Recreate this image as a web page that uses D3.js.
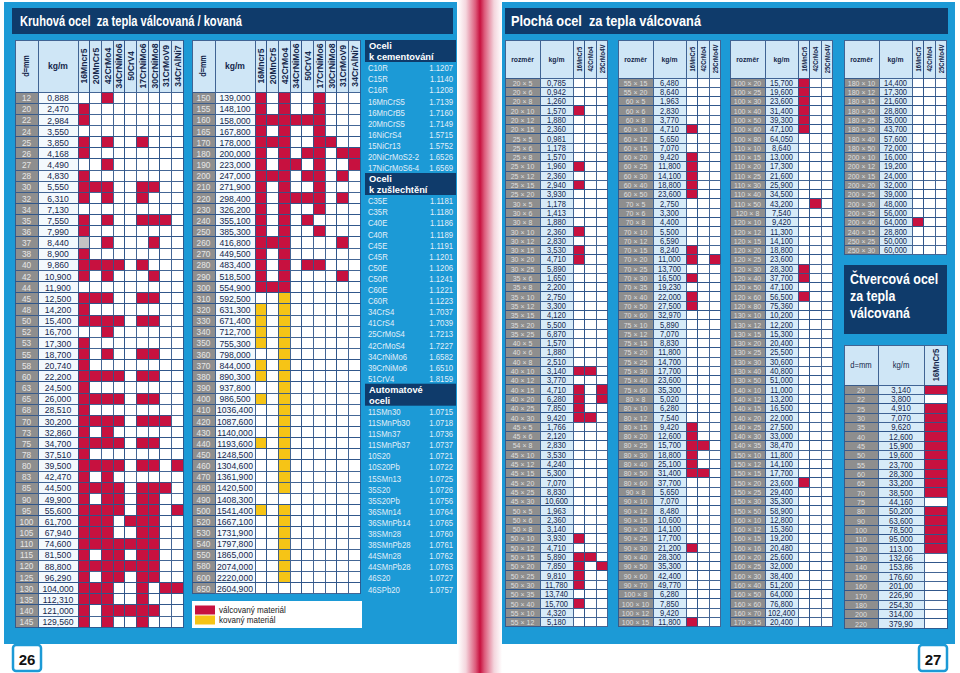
<!DOCTYPE html>
<html><head><meta charset="utf-8">
<script src="https://cdn.jsdelivr.net/npm/d3@7"></script>
<style>
body{margin:0;background:#fff}
svg{display:block;font-family:"Liberation Sans",Arial,Helvetica,sans-serif}
text{white-space:pre}
</style>
</head><body>
<svg id="c" width="960" height="673"></svg>
<script>
// ---------------- DATA ----------------
const roundGrades = ["16Mncr5","20MnCr5","42CrMo4","34CrNiMo6","50CrV4","17CrNiMo6","30CrNiMo8","31CrMoV9","34CrAlNi7"];
const roundD1 = ["12","20","22","24","25","26","27","28","30","32","34","35","36","37","38","40","42","44","45","48","50","52","53","55","58","60","63","65","68","70","73","75","78","80","83","85","90","95","100","105","110","115","120","125","130","135","140","145"];
const roundKg1 = ["0,888","2,470","2,984","3,550","3,850","4,168","4,490","4,830","5,550","6,310","7,130","7,550","7,990","8,440","8,900","9,860","10,900","11,900","12,500","14,200","15,400","16,700","17,300","18,700","20,740","22,200","24,500","26,000","28,510","30,200","32,860","34,700","37,510","39,500","42,470","44,500","49,900","55,600","61,700","67,940","74,600","81,500","88,800","96,290","104,000","112,310","121,000","129,560"];
// R = válcovaný (rolled), Y = kovaný (forged), G = grey, . = none
const roundMarks1 = ["..R......","R........","R........",".........","R.R..R...","R........","..R......","R........","RRR..RR..","R.R..R...",".........","R.R..RRR.","R........","G.R...R..","R........","RRRR.R...","R.R...R..",".........","RRR..RR..","R........","RRRR.RR..","..R......","R........","R.R..RR..","R........","RRRR.RR..","R........","RRRR.RR..","R........","RRRR.RRR.","R.R......","RRRR.RR..","R........","RRRR.RR.R","R.R......","RRRR.RRR.","R.RR.RR..","RRRR.RR.R","RRR.RRR..","RRR..RR..","RRRRRRR..","R.RR.RR..","RRRRRRR..","R.RR.RR..","RRR..R.RR","RRR..R...","R.RRRRR..","R.R..R..."];
const roundD2 = ["150","155","160","165","170","180","190","200","210","220","230","240","250","260","270","280","290","300","310","320","330","340","350","360","370","380","390","400","410","420","430","440","450","460","470","480","490","500","520","530","540","550","580","600","650"];
const roundKg2 = ["139,000","148,100","158,000","167,800","178,000","200,000","223,000","247,000","271,900","298,400","326,200","355,100","385,300","416,800","449,500","483,400","518,500","554,900","592,500","631,300","671,400","712,700","755,300","798,000","844,000","890,300","937,800","986,500","1036,400","1087,600","1140,000","1193,600","1248,500","1304,600","1361,900","1420,500","1408,300","1541,400","1667,100","1731,900","1797,800","1865,000","2074,000","2220,000","2604,900"];
const roundMarks2 = ["R.R..R...","R.R..R...","RRRRRR...","R.R..R...","RRR..RR..","R.R.RR.RR","R.RR.R..R","RRR.RR.R.","R.R..R...","R.RRRR.R.","R.R..R...","R.R.R....","R.R..R...","RRR....R.","R.R......","R.R.RR...","R.R....R.","RRR......","..Y......","Y.Y......","Y.Y......","Y.Y......","Y.Y......","..Y......","Y.Y......","Y.Y......","..Y......","Y.Y......","..Y......","..Y......","..Y......","Y.Y......","..Y......","..Y......","..Y......","..Y......",".........","Y.Y......","..Y......","..Y......","..Y......","..Y......","..Y......","..Y......","........."];

const legendLabels = ["válcovaný materiál","kovaný materiál"];

const groupTitles = [["Oceli","k cementování"],["Oceli","k zušlechtění"],["Automatové","oceli"]];
const cementNames = ["C10R","C15R","C16R","16MnCrS5","16MnCrB5","20MnCrS5","16NiCrS4","15NiCr13","20NiCrMoS2-2","17NiCrMoS6-4"];
const cementNums  = ["1.1207","1.1140","1.1208","1.7139","1.7160","1.7149","1.5715","1.5752","1.6526","1.6569"];
const temperNames = ["C35E","C35R","C40E","C40R","C45E","C45R","C50E","C50R","C60E","C60R","34CrS4","41CrS4","25CrMoS4","42CrMoS4","34CrNiMo6","39CrNiMo6","51CrV4"];
const temperNums  = ["1.1181","1.1180","1.1186","1.1189","1.1191","1.1201","1.1206","1.1241","1.1221","1.1223","1.7037","1.7039","1.7213","1.7227","1.6582","1.6510","1.8159"];
const freeNames = ["11SMn30","11SMnPb30","11SMn37","11SMnPb37","10S20","10S20Pb","15SMn13","35S20","35S20Pb","36SMn14","36SMnPb14","38SMn28","38SMnPb28","44SMn28","44SMnPb28","46S20","46SPb20"];
const freeNums  = ["1.0715","1.0718","1.0736","1.0737","1.0721","1.0722","1.0725","1.0726","1.0756","1.0764","1.0765","1.0760","1.0761","1.0762","1.0763","1.0727","1.0757"];

const flatGrades = ["16MnCr5","42CrMo4","25CrMo4V"];
const flatSize1 = ["20 × 5","20 × 6","20 × 8","20 × 10","20 × 12","20 × 15","25 × 5","25 × 6","25 × 8","25 × 10","25 × 12","25 × 15","25 × 20","30 × 5","30 × 6","30 × 8","30 × 10","30 × 12","30 × 15","30 × 20","30 × 25","35 × 6","35 × 8","35 × 10","35 × 12","35 × 15","35 × 20","35 × 25","40 × 5","40 × 6","40 × 8","40 × 10","40 × 12","40 × 15","40 × 20","40 × 25","40 × 30","45 × 5","45 × 6","54 × 8","45 × 10","45 × 12","45 × 15","45 × 20","45 × 25","45 × 30","50 × 5","50 × 6","50 × 8","50 × 10","50 × 12","50 × 15","50 × 20","50 × 25","50 × 30","50 × 35","50 × 40","55 × 10","55 × 12"];
const flatKg1 = ["0,785","0,942","1,260","1,570","1,880","2,360","0,981","1,178","1,570","1,960","2,360","2,940","3,930","1,178","1,413","1,880","2,360","2,830","3,530","4,710","5,890","1,650","2,200","2,750","3,300","4,120","5,500","6,870","1,570","1,880","2,510","3,140","3,770","4,710","6,280","7,850","9,420","1,766","2,120","2,830","3,530","4,240","5,300","7,070","8,830","10,600","1,963","2,360","3,140","3,930","4,710","5,890","7,850","9,810","11,780","13,740","15,700","4,320","5,180"];
const flatMarks1 = ["...","...","...","R..","...","...","...","...","...","R..","...","R..","...","...","...","...","R..","...","R..","R..","...","...","...","...","...","...","...","...","...","...","...","RR.","...","R.R","R.R","R..","RR.","...","...","...","...","...","...","...","...","...","...","...","...","R..","...","RR.","R.R","R..","R..","...","R..","...","..."];
const flatSize2 = ["55 × 15","55 × 20","60 × 5","60 × 6","60 × 8","60 × 10","60 × 12","60 × 15","60 × 20","60 × 25","60 × 30","60 × 40","60 × 50","70 × 5","70 × 6","70 × 8","70 × 10","70 × 12","70 × 15","70 × 20","70 × 25","70 × 30","70 × 35","70 × 40","70 × 50","70 × 60","75 × 10","75 × 12","75 × 15","75 × 20","75 × 25","75 × 30","75 × 40","75 × 60","80 × 8","80 × 10","80 × 12","80 × 15","80 × 20","80 × 25","80 × 30","80 × 40","80 × 50","80 × 60","90 × 8","90 × 10","90 × 12","90 × 15","90 × 20","90 × 25","90 × 30","90 × 40","90 × 50","90 × 60","90 × 70","100 × 8","100 × 10","100 × 12","100 × 15"];
const flatKg2 = ["6,480","8,640","1,963","2,830","3,770","4,710","5,650","7,070","9,420","11,800","14,100","18,800","23,600","2,750","3,300","4,400","5,500","6,590","8,240","11,000","13,700","16,500","19,230","22,000","27,500","32,970","5,890","7,070","8,830","11,800","14,700","17,700","23,600","35,300","5,020","6,280","7,540","9,420","12,600","15,700","18,800","25,100","31,400","37,700","5,650","7,070","8,480","10,600","14,100","17,700","21,200","28,300","35,300","42,400","49,770","6,280","7,850","9,420","11,800"];
const flatMarks2 = ["...","...","...","...","...","R..","...","...","R..","R..","R..","R..","R..","...","...","...","...","...","R..","R.R","...","R..","...","R..","R..","...","...","...","...","...","...","...","...","...","...","...","...","R..","R..","RR.","R..","R..","RR.","...","...","...","...","...","...","...","R..","...","...","...","...","...","...","...","R.."];
const flatSize3 = ["100 × 20","100 × 25","100 × 30","100 × 40","100 × 50","100 × 60","100 × 80","110 × 10","110 × 15","110 × 20","110 × 25","110 × 30","110 × 40","110 × 50","120 × 8","120 × 10","120 × 12","120 × 15","120 × 20","120 × 25","120 × 30","120 × 40","120 × 50","120 × 60","120 × 80","130 × 10","130 × 12","130 × 15","130 × 20","130 × 25","130 × 30","130 × 40","130 × 50","140 × 10","140 × 12","140 × 15","140 × 20","140 × 25","140 × 30","140 × 35","150 × 10","150 × 12","150 × 15","150 × 20","150 × 25","150 × 30","150 × 50","160 × 10","160 × 12","160 × 15","160 × 16","160 × 20","160 × 25","160 × 30","160 × 40","160 × 50","160 × 60","160 × 70","170 × 15"];
const flatKg3 = ["15,700","19,600","23,600","31,400","39,300","47,100","64,050","8,640","13,000","17,300","21,600","25,900","34,500","43,200","7,540","9,420","11,300","14,100","18,800","23,600","28,300","37,700","47,100","56,500","75,360","10,200","12,200","15,300","20,400","25,500","30,600","40,800","51,000","11,000","13,200","16,500","22,000","27,500","33,000","38,470","11,800","14,100","17,700","23,600","29,400","35,300","58,900","12,800","15,360","19,200","20,480","25,600","32,000","38,400","51,200","64,000","76,800","102,400","20,400"];
const flatMarks3 = ["R..","R..","R..","R..","R..","R..","...","...","...","...","...","...","...",".R.","...","...","...","...","...","...","R..","R..","...","R..","...","...","...","...","...","...","...","...","...","...","...","...","...","...","...","...","...","...","...","R..","...","...","...","...","...","...","...","...","...","...","...","...","...","...","..."];
const flatSize4 = ["180 × 10","180 × 12","180 × 15","180 × 20","180 × 25","180 × 30","180 × 40","180 × 50","200 × 10","200 × 12","200 × 15","200 × 20","200 × 25","200 × 30","200 × 35","200 × 40","240 × 15","250 × 25","250 × 30"];
const flatKg4 = ["14,400","17,300","21,600","28,800","35,000","43,700","57,600","72,000","16,000","19,200","24,000","32,000","39,000","48,000","56,000","64,000","28,800","50,000","60,000"];
const flatMarks4 = ["...","...","...","...","...","...","...","...","...","...","...","...","...","...","...","R..","...","...","..."];

const squareTitle = ["Čtvercová ocel","za tepla","válcovaná"];
const squareGrades = ["16MnCr5"];
const squareD = ["20","22","25","30","35","40","45","50","55","60","65","70","75","80","90","100","110","120","130","140","150","160","170","180","200","220"];
const squareKg = ["3,140","3,800","4,910","7,070","9,620","12,600","15,900","19,600","23,700","28,300","33,200","38,500","44,160","50,200","63,600","78,500","95,000","113,00","132,66","153,86","176,60","201,00","226,90","254,30","314,00","379,90"];
const squareMarks = ["R",".","R","R","R","R","R","R","R","R","R","R",".","R","R","R","R","R",".",".",".",".",".",".",".","."];

const pageTitles = ["Kruhová ocel  za tepla válcovaná / kovaná","Plochá ocel  za tepla válcovaná"];
const pageNumbers = ["26","27"];

// ---------------- STYLE ----------------
const C = {panel:"#1c9ad6", navy:"#0f3b6b", red:"#c7113f", yellow:"#f6c416", grey:"#8e8e8e",
  grid:"#30558a", head:"#cfe6f6", ink:"#15264b", list:"#e2eff9"};
const markFill = {"R":C.red, "Y":C.yellow, "G":"#c4c4c4", ".":"#ffffff"};

const svg = d3.select("#c");

function txt(g, x, y, s, o = {}) {
  return g.append("text")
    .attr("transform", `translate(${x},${y})${o.rot ? ` rotate(${o.rot})` : ""} scale(${o.sx ?? 0.9},1)`)
    .attr("text-anchor", o.anchor || "middle")
    .attr("dominant-baseline", "central")
    .attr("font-size", o.size || 9)
    .attr("font-weight", o.bold ? "bold" : "normal")
    .attr("fill", o.fill || C.ink)
    .text(s);
}

// ---------------- BACKGROUND ----------------
const defs = svg.append("defs");
const grad = defs.append("linearGradient").attr("id","spine").attr("x1","0").attr("x2","1").attr("y1","0").attr("y2","0");
[[0,"#ffffff"],[0.18,"#f4d5dd"],[0.4,"#dc5a7a"],[0.5,"#c8103e"],[0.6,"#dc5a7a"],[0.82,"#f4d5dd"],[1,"#ffffff"]]
  .forEach(([o,c]) => grad.append("stop").attr("offset",o).attr("stop-color",c));

svg.append("rect").attr("x",0).attr("y",0).attr("width",960).attr("height",673).attr("fill","#fff");
svg.append("rect").attr("x",4).attr("y",2).attr("width",453).attr("height",642).attr("fill",C.panel);
svg.append("rect").attr("x",502).attr("y",2).attr("width",453).attr("height",642).attr("fill",C.panel);
svg.append("rect").attr("x",458).attr("y",0).attr("width",44).attr("height",673).attr("fill","url(#spine)");

// titles
[[12, 8, 441, 20, 222],[505, 8, 443, 511, 190]].forEach((p,i) => {
  svg.append("rect").attr("x",p[0]).attr("y",p[1]).attr("width",p[2]).attr("height",26).attr("fill",C.navy);
  svg.append("text").attr("x",p[3]).attr("y",26).attr("font-size",15).attr("font-weight","bold")
    .attr("fill","#fff").attr("textLength",p[4]).attr("lengthAdjust","spacingAndGlyphs").text(pageTitles[i]);
});

// page numbers
[[13,pageNumbers[0]],[919,pageNumbers[1]]].forEach(([x,s]) => {
  svg.append("rect").attr("x",x).attr("y",645).attr("width",28).attr("height",26).attr("rx",3)
    .attr("fill","#fff").attr("stroke",C.panel).attr("stroke-width",2.5);
  txt(svg, x+14, 659, s, {size:15, bold:true, fill:"#111", sx:1});
});

// ---------------- TABLE DRAWER ----------------
function drawTable(cfg) {
  const g = svg.append("g").attr("shape-rendering","crispEdges");
  const gt = svg.append("g");
  const n = cfg.labels.length;
  const top = cfg.y + cfg.headH;
  const yS = d3.scaleBand().domain(d3.range(n)).range([top, top + n * cfg.rowH]);
  const gx0 = cfg.x + cfg.labW + cfg.kgW;
  const xS = d3.scaleBand().domain(cfg.grades).range([gx0, gx0 + cfg.grades.length * cfg.colW]);
  const cell = (x, y, w, h, fill) => g.append("rect").attr("x",x).attr("y",y).attr("width",w).attr("height",h)
    .attr("fill",fill).attr("stroke",C.grid).attr("stroke-width",0.9);
  // header
  cell(cfg.x, cfg.y, cfg.labW, cfg.headH, C.head);
  cell(cfg.x + cfg.labW, cfg.y, cfg.kgW, cfg.headH, C.head);
  cfg.grades.forEach(gr => cell(xS(gr), cfg.y, xS.bandwidth(), cfg.headH, C.head));
  const hc = cfg.y + cfg.headH / 2;
  txt(gt, cfg.x + cfg.labW / 2, hc, cfg.dHead.text, cfg.dHead);
  txt(gt, cfg.x + cfg.labW + cfg.kgW / 2, hc, cfg.kgHead.text, cfg.kgHead);
  cfg.grades.forEach(gr => txt(gt, xS(gr) + xS.bandwidth() / 2 + 0.5, hc, gr, cfg.gradeHead));
  // rows
  const rows = g.selectAll("g.row").data(cfg.labels.map((l, i) => ({l, kg: cfg.kgs[i], m: cfg.marks[i], i})))
    .join("g").attr("class","row");
  rows.each(function(d) {
    const y = yS(d.i), h = yS.bandwidth();
    cell(cfg.x, y, cfg.labW, h, cfg.labFill || C.grey);
    cell(cfg.x + cfg.labW, y, cfg.kgW, h, cfg.kgFill);
    cfg.grades.forEach((gr, j) => cell(xS(gr), y, xS.bandwidth(), h, markFill[d.m[j]]));
    txt(gt, cfg.x + cfg.labW / 2, y + h / 2 + 0.5, d.l, cfg.labText);
    txt(gt, cfg.x + cfg.labW + cfg.kgW / 2, y + h / 2 + 0.5, d.kg, cfg.kgText);
  });
  return {xS, yS};
}

// ---------------- ROUND TABLES ----------------
const roundStyle = {
  y: 40, headH: 52, rowH: 11.15, labW: 23, kgW: 40, colW: 11.67, grades: roundGrades,
  kgFill: "#f3f9fd",
  dHead: {text:"d=mm", rot:-90, size:8.5, bold:true, sx:0.85},
  kgHead: {text:"kg/m", size:9.5, bold:true, sx:0.9},
  gradeHead: {rot:-90, size:9.6, bold:true, sx:0.9},
  labText: {size:9, fill:"#e6e6e6", sx:0.92},
  kgText: {size:9.6, sx:0.9}
};
drawTable(Object.assign({}, roundStyle, {x:15, labels:roundD1, kgs:roundKg1, marks:roundMarks1}));
drawTable(Object.assign({}, roundStyle, {x:192, labels:roundD2, kgs:roundKg2, marks:roundMarks2}));

// legend
const lg = svg.append("g");
lg.append("rect").attr("x",192).attr("y",601).attr("width",170).attr("height",27).attr("fill","#fff");
[[C.red,605.5],[C.yellow,615.5]].forEach(([c,y],i) => {
  lg.append("rect").attr("x",195).attr("y",y).attr("width",20).attr("height",9).attr("fill",c);
  txt(lg, 219, y + 4.5, legendLabels[i], {anchor:"start", size:9.5, sx:0.85, fill:"#1a1a1a"});
});

// ---------------- STEEL GRADE LIST ----------------
const lists = [[cementNames, cementNums],[temperNames, temperNums],[freeNames, freeNums]];
let ly = 40;
const listG = svg.append("g");
lists.forEach(([names, nums], k) => {
  listG.append("rect").attr("x",365).attr("y",ly).attr("width",91).attr("height",22).attr("fill",C.navy);
  txt(listG, 369, ly + 5.8, groupTitles[k][0], {anchor:"start", size:9.8, bold:true, fill:"#fff", sx:0.95});
  txt(listG, 369, ly + 16.4, groupTitles[k][1], {anchor:"start", size:9.8, bold:true, fill:"#fff", sx:0.95});
  ly += 22;
  const yS = d3.scaleBand().domain(d3.range(names.length)).range([ly, ly + names.length * 11.1]);
  names.forEach((nm, i) => {
    const cy = yS(i) + yS.bandwidth() / 2 + 0.5;
    txt(listG, 368, cy, nm, {anchor:"start", size:9, fill:C.list, sx:0.86});
    txt(listG, 453, cy, nums[i], {anchor:"end", size:9, fill:C.list, sx:0.86});
  });
  ly += names.length * 11.1;
});

// ---------------- FLAT TABLES ----------------
const flatStyle = {
  y: 40, headH: 38, rowH: 9.3, labW: 35, kgW: 33, colW: 11.5, grades: flatGrades,
  kgFill: "#d7ebf8",
  dHead: {text:"rozměr", size:8, bold:true, sx:0.85},
  kgHead: {text:"kg/m", size:8, bold:true, sx:0.85},
  gradeHead: {rot:-90, size:6.4, bold:true, sx:0.92},
  labText: {size:7.8, fill:"#dedede", sx:0.9},
  kgText: {size:8.2, sx:0.92}
};
const flats = [[505, flatSize1, flatKg1, flatMarks1],[618, flatSize2, flatKg2, flatMarks2],
               [730, flatSize3, flatKg3, flatMarks3],[844, flatSize4, flatKg4, flatMarks4]];
flats.forEach(([x, l, k, m]) => drawTable(Object.assign({}, flatStyle, {x, labels:l, kgs:k, marks:m})));

// square steel title box
const sq = svg.append("g");
sq.append("rect").attr("x",844).attr("y",265).attr("width",103).attr("height",69).attr("fill",C.navy);
squareTitle.forEach((s, i) => txt(sq, 850, 278 + i * 17, s, {anchor:"start", size:15.5, bold:true, fill:"#fff", sx:0.8}));

drawTable({
  x: 844, y: 345, headH: 40, rowH: 9.35, labW: 34, kgW: 46, colW: 23, grades: squareGrades,
  kgFill: "#d7ebf8",
  dHead: {text:"d=mm", size:8.5, sx:0.9},
  kgHead: {text:"kg/m", size:8.5, sx:0.9},
  gradeHead: {rot:-90, size:8.6, bold:true, sx:0.9},
  labText: {size:8, fill:"#dedede", sx:0.9},
  kgText: {size:8.5, sx:0.92},
  labels: squareD, kgs: squareKg, marks: squareMarks
});
</script>
</body></html>
